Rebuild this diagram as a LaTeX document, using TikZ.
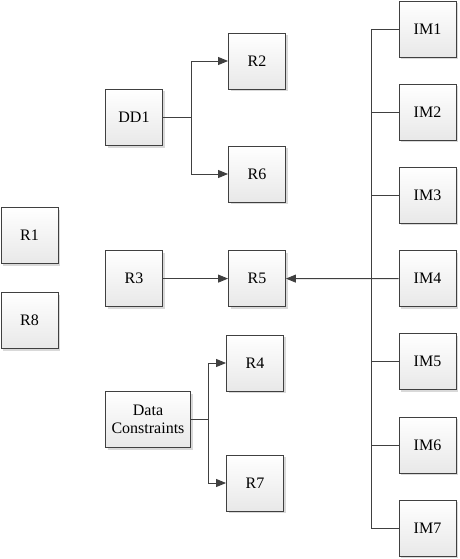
\documentclass[tikz,border=0pt]{standalone}
\usepackage{fontspec}
\setmainfont{Liberation Serif}
\usetikzlibrary{arrows.meta,shadows}

\tikzset{
  blk/.style={draw=black!75, line width=0.9pt, top color=white, bottom color=black!9,
    minimum width=57pt, minimum height=56pt, inner sep=1pt, align=center,
    font=\fontsize{16}{18}\selectfont,
    drop shadow={shadow xshift=2pt, shadow yshift=-2pt, fill=black!15, opacity=1}},
  wide/.style={blk, minimum width=85pt},
  con/.style={draw=black!75, line width=0.9pt},
  arr/.style={con, -{Triangle[length=10pt,width=8pt]}}
}

\begin{document}
\begin{tikzpicture}[x=1pt,y=-1pt]
	\useasboundingbox (0,0) rectangle (459,559);
	% left column
	\node[blk] (R1) at (29.5,235.5) {R1};
	\node[blk] (R8) at (29.5,320.5) {R8};
	\node[blk] (DD1) at (134,117.5) {DD1};
	\node[blk] (R3) at (134,278.6) {R3};
	\node[wide] (DC) at (148,419.5) {Data\\Constraints};
	% middle column
	\node[blk] (R2) at (257,61) {R2};
	\node[blk] (R6) at (257,174) {R6};
	\node[blk] (R5) at (257,278.6) {R5};
	\node[blk] (R4) at (255,363) {R4};
	\node[blk] (R7) at (255,483) {R7};
	% right column
	\foreach \i in {1,...,7}
		\node[blk] (IM\i) at (427.5,{29+83.2*(\i-1)}) {IM\i};
	\coordinate (j1) at (191,117.5);
	\coordinate (j2) at (208,419.5);
	\coordinate (bus) at (371,0);
	% edges
	\draw[con] (DD1) -- (j1);
	\draw[arr] (j1) |- (R2);
	\draw[arr] (j1) |- (R6);
	\draw[arr] (R3) -- (R5);
	\draw[con] (DC) -- (j2);
	\draw[arr] (j2) |- (R4);
	\draw[arr] (j2) |- (R7);
	\draw[con] (IM1.west -| bus) -- (IM7.west -| bus);
	\foreach \i in {1,2,3,5,6,7}
		\draw[con] (IM\i) -- (IM\i.west -| bus);
	\draw[arr] (IM4) -- (R5);
\end{tikzpicture}
\end{document}
